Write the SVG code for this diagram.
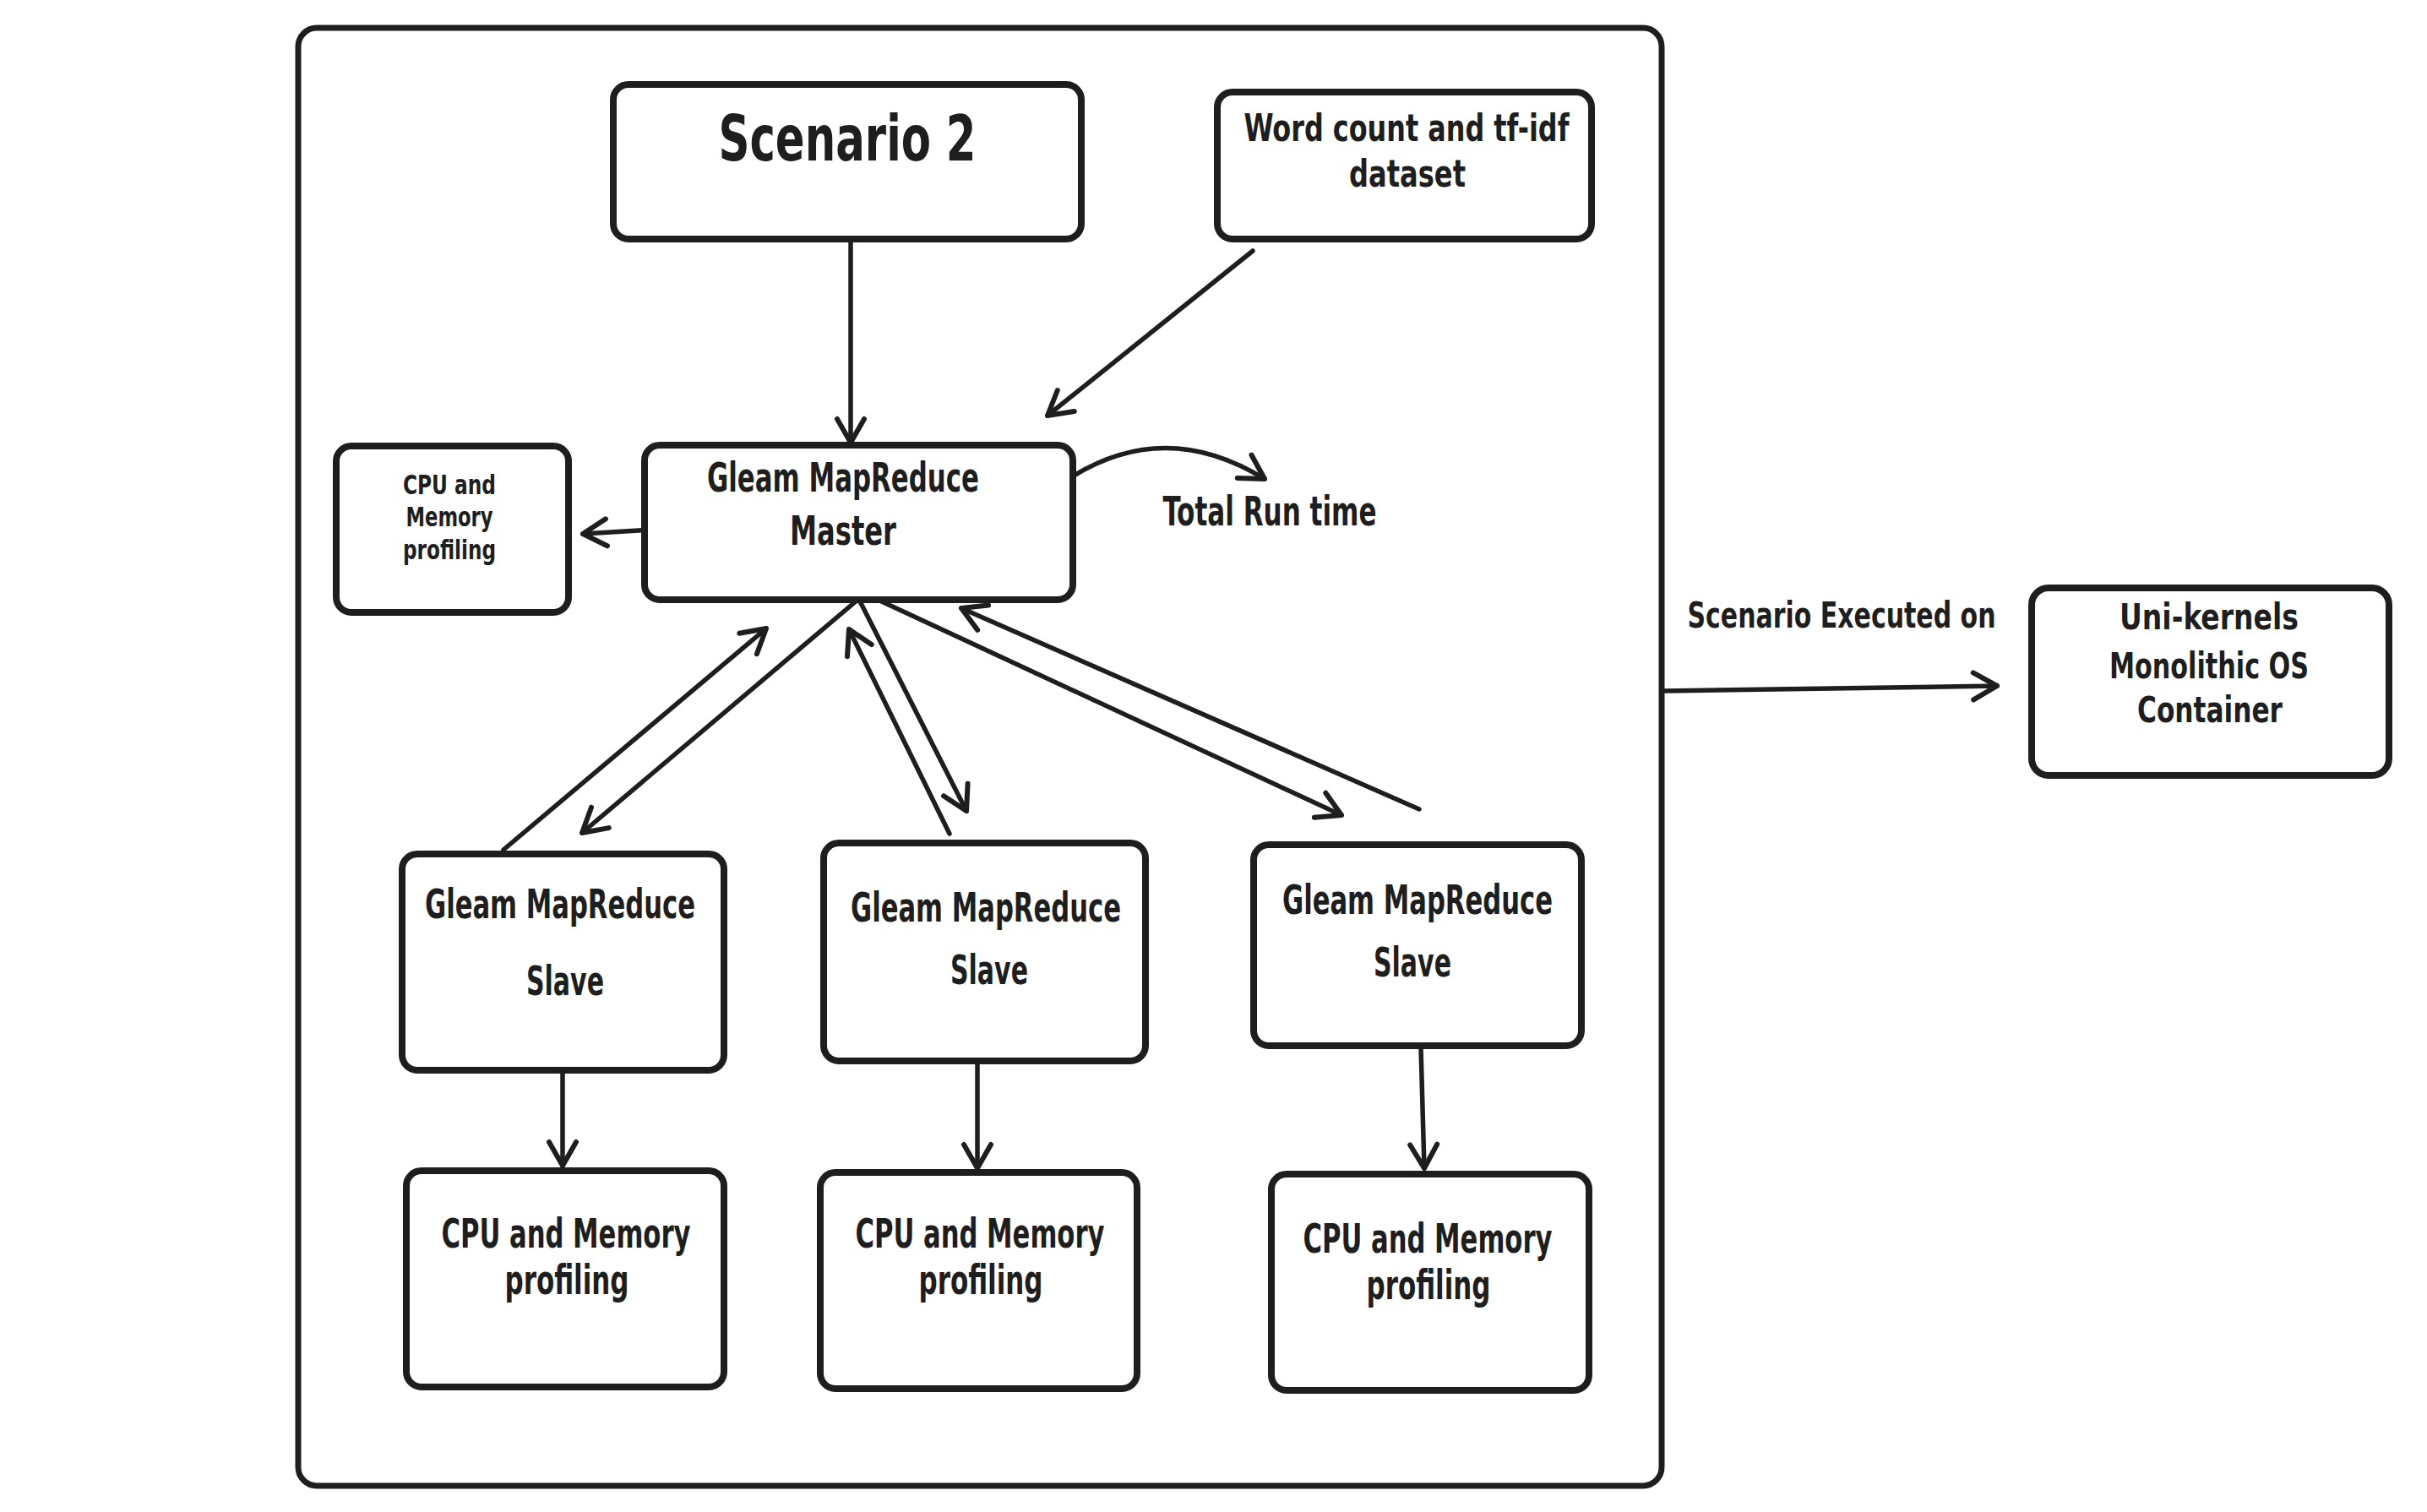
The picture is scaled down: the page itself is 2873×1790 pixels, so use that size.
<svg xmlns="http://www.w3.org/2000/svg" width="2873" height="1790" viewBox="0 0 2873 1790">
<style>
.box{fill:#ffffff;stroke:#1e1e1e;stroke-width:8;stroke-linejoin:round}
.frame{fill:none;stroke:#1e1e1e;stroke-width:7}
.edge{fill:none;stroke:#1e1e1e;stroke-width:5.5;stroke-linecap:round;stroke-linejoin:round}
text{font-family:"DejaVu Sans Condensed","Liberation Sans",sans-serif;font-weight:bold;fill:#1e1e1e;text-anchor:middle}
.t50{font-size:48px}
.t46{font-size:44px}
.t44{font-size:42px}
.t34{font-size:32px}
.t76{font-size:74px}
</style>
<defs>
<marker id="ah" markerUnits="userSpaceOnUse" viewBox="-36 -20 44 40" refX="0" refY="0" markerWidth="44" markerHeight="40" orient="auto-start-reverse">
<path d="M-28,-16 L0,0 L-28,16" fill="none" stroke="#1e1e1e" stroke-width="6" stroke-linecap="round" stroke-linejoin="round"/>
</marker>
</defs>
<rect x="0" y="0" width="2873" height="1790" fill="#ffffff"/>
<g id="frame">
<rect class="frame" x="353" y="33" width="1614" height="1726" rx="22"/>
</g>
<g id="connectors">
<path class="edge" d="M1007,286 L1007,524" marker-end="url(#ah)"/>
<path class="edge" d="M1483,297 L1240,492" marker-end="url(#ah)"/>
<path class="edge" d="M772,627 L690,632" marker-end="url(#ah)"/>
<path class="edge" d="M1268,565 Q1380,495 1497,567" marker-end="url(#ah)"/>
<path class="edge" d="M1968,818 L2364,812" marker-end="url(#ah)"/>
<path class="edge" d="M596,1006 L907,744" marker-end="url(#ah)"/>
<path class="edge" d="M1013,712 L689,986" marker-end="url(#ah)"/>
<path class="edge" d="M1124,987 L1005,745" marker-end="url(#ah)"/>
<path class="edge" d="M1017,710 L1144,960" marker-end="url(#ah)"/>
<path class="edge" d="M1022,702 L1588,965" marker-end="url(#ah)"/>
<path class="edge" d="M1680,958 L1138,720" marker-end="url(#ah)"/>
<path class="edge" d="M666,1270 L666,1380" marker-end="url(#ah)"/>
<path class="edge" d="M1157,1258 L1157,1383" marker-end="url(#ah)"/>
<path class="edge" d="M1682,1240 L1686,1383" marker-end="url(#ah)"/>
</g>
<g id="scenario2">
<rect class="box" x="726" y="100" width="554" height="183" rx="18"/>
<text class="t76" x="1003" y="190" textLength="305" lengthAdjust="spacingAndGlyphs">Scenario 2</text>
</g>
<g id="dataset">
<rect class="box" x="1441" y="109" width="443" height="174" rx="18"/>
<text class="t46" x="1665" y="167" textLength="385" lengthAdjust="spacingAndGlyphs">Word count and tf-idf</text>
<text class="t46" x="1666" y="221" textLength="138" lengthAdjust="spacingAndGlyphs">dataset</text>
</g>
<g id="master">
<rect class="box" x="763" y="527" width="507" height="183" rx="18"/>
<text class="t50" x="998" y="582" textLength="322" lengthAdjust="spacingAndGlyphs">Gleam MapReduce</text>
<text class="t50" x="998" y="645" textLength="126" lengthAdjust="spacingAndGlyphs">Master</text>
</g>
<g id="master-profiling">
<rect class="box" x="398" y="528" width="275" height="197" rx="18"/>
<text class="t34" x="532" y="585" textLength="110" lengthAdjust="spacingAndGlyphs">CPU and</text>
<text class="t34" x="532" y="623" textLength="103" lengthAdjust="spacingAndGlyphs">Memory</text>
<text class="t34" x="532" y="662" textLength="110" lengthAdjust="spacingAndGlyphs">profiling</text>
</g>
<g id="total-run-time">
<text class="t50" x="1503" y="622" textLength="253" lengthAdjust="spacingAndGlyphs">Total Run time</text>
</g>
<g id="slave1">
<rect class="box" x="476" y="1011" width="381" height="256" rx="18"/>
<text class="t50" x="663" y="1087" textLength="320" lengthAdjust="spacingAndGlyphs">Gleam MapReduce</text>
<text class="t50" x="669" y="1178" textLength="92" lengthAdjust="spacingAndGlyphs">Slave</text>
</g>
<g id="slave2">
<rect class="box" x="975" y="998" width="381" height="258" rx="18"/>
<text class="t50" x="1167" y="1091" textLength="320" lengthAdjust="spacingAndGlyphs">Gleam MapReduce</text>
<text class="t50" x="1171" y="1165" textLength="92" lengthAdjust="spacingAndGlyphs">Slave</text>
</g>
<g id="slave3">
<rect class="box" x="1484" y="1000" width="388" height="238" rx="18"/>
<text class="t50" x="1678" y="1082" textLength="320" lengthAdjust="spacingAndGlyphs">Gleam MapReduce</text>
<text class="t50" x="1672" y="1156" textLength="92" lengthAdjust="spacingAndGlyphs">Slave</text>
</g>
<g id="profiling1">
<rect class="box" x="481" y="1386" width="376" height="256" rx="18"/>
<text class="t50" x="670" y="1477" textLength="295" lengthAdjust="spacingAndGlyphs">CPU and Memory</text>
<text class="t50" x="671" y="1532" textLength="147" lengthAdjust="spacingAndGlyphs">profiling</text>
</g>
<g id="profiling2">
<rect class="box" x="971" y="1388" width="375" height="256" rx="18"/>
<text class="t50" x="1160" y="1477" textLength="295" lengthAdjust="spacingAndGlyphs">CPU and Memory</text>
<text class="t50" x="1161" y="1532" textLength="147" lengthAdjust="spacingAndGlyphs">profiling</text>
</g>
<g id="profiling3">
<rect class="box" x="1505" y="1390" width="376" height="256" rx="18"/>
<text class="t50" x="1690" y="1483" textLength="295" lengthAdjust="spacingAndGlyphs">CPU and Memory</text>
<text class="t50" x="1691" y="1538" textLength="147" lengthAdjust="spacingAndGlyphs">profiling</text>
</g>
<g id="executed-on-label">
<text class="t44" x="2180" y="743" textLength="365" lengthAdjust="spacingAndGlyphs">Scenario Executed on</text>
</g>
<g id="platforms">
<rect class="box" x="2405" y="696" width="423" height="222" rx="20"/>
<text class="t44" x="2615" y="745" textLength="212" lengthAdjust="spacingAndGlyphs">Uni-kernels</text>
<text class="t44" x="2615" y="803" textLength="236" lengthAdjust="spacingAndGlyphs">Monolithic OS</text>
<text class="t44" x="2616" y="855" textLength="172" lengthAdjust="spacingAndGlyphs">Container</text>
</g>
</svg>
